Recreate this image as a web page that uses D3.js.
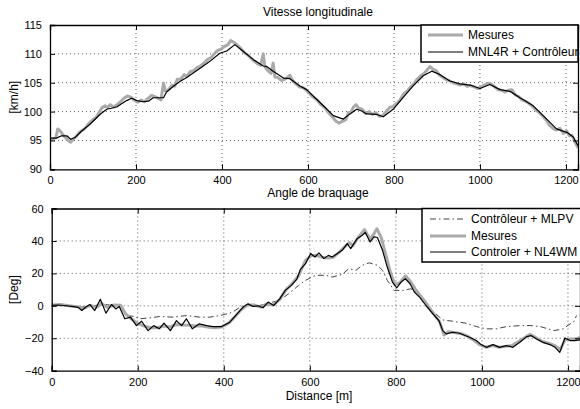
<!DOCTYPE html>
<html><head><meta charset="utf-8">
<script src="https://cdn.jsdelivr.net/npm/d3@7"></script>
<style>body{margin:0;background:#fff}svg{display:block;font-family:"Liberation Sans",Arial,sans-serif}</style>
</head><body><svg id="c" width="580" height="409"></svg>
<script>
// ---------- data ----------
const xTicks = [0, 200, 400, 600, 800, 1000, 1200];
const speedTicks = [90, 95, 100, 105, 110, 115];
const angleTicks = [-40, -20, 0, 20, 40, 60];
const xDomain = [0, 1228];

// Vitesse longitudinale : Mesures [distance m, km/h]
const speedMesures = [[0,95.0],[8,95.3],[14,95.5],[18,97.0],[24,96.6],[30,96.0],[36,95.5],[42,95.0],[48,94.7],[54,95.2],[62,95.8],[70,96.5],[80,97.0],[90,97.9],[100,98.6],[108,99.0],[114,99.8],[120,100.6],[128,101.0],[134,100.7],[140,101.2],[148,100.8],[156,101.2],[164,101.7],[172,102.3],[180,102.7],[188,102.5],[196,102.0],[204,101.6],[212,102.0],[220,101.7],[228,102.3],[236,102.8],[244,102.6],[252,102.3],[258,102.0],[264,104.9],[268,103.6],[276,103.8],[284,104.6],[290,104.4],[296,105.6],[304,105.6],[312,106.4],[318,106.1],[326,106.9],[334,107.1],[342,107.6],[350,107.9],[358,108.4],[366,109.0],[374,109.3],[382,110.0],[390,110.6],[398,110.8],[406,111.3],[414,111.6],[420,112.3],[428,112.0],[436,111.5],[444,110.9],[452,110.2],[460,109.8],[468,109.2],[476,108.7],[484,108.2],[490,108.0],[496,110.0],[500,107.7],[508,107.0],[514,106.6],[519,108.4],[523,106.0],[530,105.9],[538,105.4],[546,105.6],[552,105.9],[558,106.3],[564,105.4],[572,104.8],[580,104.3],[590,104.1],[600,103.4],[610,102.6],[620,102.1],[630,101.2],[640,100.6],[650,99.6],[658,99.0],[664,98.4],[672,98.0],[680,98.3],[688,98.6],[694,99.8],[700,99.9],[706,100.8],[712,101.2],[718,100.6],[726,100.4],[734,99.7],[742,100.0],[750,99.5],[758,99.8],[766,99.2],[774,99.3],[782,100.0],[790,100.7],[798,100.9],[806,101.4],[814,102.0],[822,103.0],[830,103.5],[838,104.2],[846,104.8],[854,105.6],[862,106.2],[870,106.6],[878,107.3],[884,107.8],[890,107.4],[898,107.1],[906,106.3],[914,105.9],[922,105.5],[930,105.3],[938,105.0],[946,104.8],[954,104.6],[962,104.8],[970,104.4],[978,104.5],[986,104.3],[994,104.0],[1002,104.2],[1010,104.6],[1018,104.9],[1026,104.8],[1034,104.3],[1042,103.8],[1050,103.7],[1058,103.4],[1066,103.7],[1074,103.8],[1082,102.9],[1090,102.6],[1098,102.0],[1106,101.8],[1114,101.4],[1122,100.9],[1130,100.3],[1138,99.8],[1146,99.2],[1154,98.5],[1162,97.6],[1170,97.1],[1178,96.8],[1186,97.1],[1194,96.2],[1202,96.6],[1208,95.8],[1214,95.9],[1220,94.9],[1228,93.7]];
// Vitesse longitudinale : MNL4R + Contrôleur
const speedModel = [[0,95.4],[15,95.4],[27,95.8],[39,95.8],[48,95.2],[58,95.5],[73,96.6],[93,97.8],[116,99.5],[132,100.4],[155,100.8],[178,101.9],[190,102.3],[202,101.9],[217,101.7],[229,101.8],[240,102.4],[256,102.4],[264,102.4],[271,103.4],[287,104.4],[302,105.2],[318,105.9],[349,107.5],[372,108.7],[395,110.1],[411,110.5],[430,111.6],[450,110.4],[473,109.0],[496,107.9],[504,107.8],[519,107.0],[543,105.8],[558,105.7],[582,104.4],[597,103.8],[612,102.7],[636,101.0],[659,99.3],[682,98.7],[698,99.6],[713,100.4],[725,100.1],[736,99.6],[760,99.5],[775,99.1],[798,100.4],[821,102.4],[844,104.4],[868,106.2],[888,107.0],[907,106.4],[930,105.3],[953,104.8],[977,104.6],[1000,104.0],[1023,104.7],[1047,103.8],[1070,103.5],[1093,102.4],[1124,101.0],[1147,99.3],[1178,97.0],[1202,96.4],[1217,95.6],[1228,94.1]];

// Angle de braquage : Contrôleur + MLPV [distance m, deg]
const angleMLPV = [[0,0.3],[40,-0.4],[80,-0.6],[120,1.0],[160,-0.5],[174,-6],[190,-6.5],[205,-8],[228,-7.4],[251,-6.6],[282,-7],[313,-6],[344,-7],[367,-7],[391,-6],[414,-4.5],[426,-2.9],[440,-0.5],[456,1],[480,0],[503,1.5],[530,3.5],[551,7.5],[574,12.6],[590,15.7],[613,18.8],[637,18.8],[652,17.7],[675,19.4],[691,22.9],[707,21.9],[722,25],[738,26.5],[757,25],[769,21.9],[780,15.7],[796,9.5],[816,9.5],[835,10.5],[855,7.4],[870,1.2],[893,-5],[909,-8.7],[932,-9.5],[963,-10.7],[987,-12.8],[1010,-14.2],[1033,-14.2],[1057,-12.8],[1088,-12.2],[1112,-12.2],[1136,-12.8],[1167,-15.3],[1189,-14.2],[1205,-11.1],[1213,-10.1],[1220,-6]];
// Angle de braquage : Mesures
const angleMesures = [[0,0.5],[20,0.8],[40,0],[60,-0.5],[75,-1.5],[90,0.3],[105,-1],[115,1.5],[130,-1],[145,0.5],[160,0.3],[172,-5],[185,-8],[200,-11],[215,-12.5],[230,-13.5],[245,-13.5],[260,-12.5],[275,-13],[290,-11.5],[305,-11.8],[320,-12],[335,-12.5],[350,-12.5],[365,-13.2],[380,-13.5],[395,-13],[410,-11],[425,-7],[440,-2.5],[455,0.5],[470,0.5],[485,-0.8],[500,1],[515,0.5],[530,4],[545,10],[560,14],[575,19],[590,28],[603,31],[615,31],[628,30],[642,29.5],[655,30],[668,33],[680,36],[692,39],[700,37],[712,42],[727,47],[740,41],[748,44],[756,47.5],[766,42],[776,32],[788,20],[798,13],[810,14.5],[822,18.5],[834,15],[846,10],[858,6],[872,1],[888,-5],[902,-10],[912,-18],[922,-16],[935,-16.5],[950,-17],[965,-18.5],[980,-21],[995,-24],[1010,-25.5],[1025,-24.5],[1040,-25.5],[1055,-25],[1070,-24.5],[1085,-22],[1100,-19.5],[1112,-17.5],[1125,-19.5],[1140,-22],[1155,-23],[1170,-24.5],[1182,-27],[1193,-21],[1205,-20.5],[1217,-20.5],[1228,-19.5]];
// Angle de braquage : Controler + NL4WM
const angleNL4WM = [[0,0.3],[15,0.5],[27,0.2],[46,-0.4],[62,-1.0],[70,-2.9],[80,-0.6],[89,0.8],[100,-2.9],[113,4.1],[126,-4.5],[139,0.8],[149,-1.9],[157,-0.4],[170,-8],[183,-7],[197,-12.2],[209,-9.5],[224,-15.3],[237,-12.2],[250,-14.2],[261,-10.7],[276,-15.3],[290,-9.1],[302,-12.2],[313,-8],[327,-14.2],[343,-11.1],[360,-12.2],[375,-12.8],[395,-12.8],[414,-10.1],[431,-5],[445,-0.8],[456,1.2],[468,-0.4],[480,0],[491,-1.2],[503,2.3],[516,0.2],[530,4.3],[543,9.5],[557,12.6],[570,16.5],[578,22.5],[590,26],[602,32.2],[612,30.1],[621,32.6],[633,29.1],[643,31.1],[652,30.1],[664,32.2],[675,34.2],[687,38.4],[695,35.3],[710,41.4],[722,43.5],[729,45.2],[740,39.4],[749,42.5],[757,42.1],[769,34.2],[780,23.9],[792,14.6],[802,11.1],[812,14.6],[822,16.7],[833,13.6],[843,8.5],[855,5.4],[870,0.2],[886,-4.9],[900,-9.1],[909,-15.3],[917,-17.3],[932,-16.3],[948,-16.9],[971,-19.4],[987,-21.4],[998,-23.9],[1010,-25.6],[1026,-23.9],[1041,-25.6],[1057,-24.5],[1072,-25.6],[1088,-22.5],[1104,-19],[1115,-18.4],[1127,-20.4],[1142,-22.5],[1158,-23.9],[1170,-25.6],[1181,-28.7],[1193,-19.8],[1205,-21.4],[1216,-21.4],[1228,-21]];

// ---------- drawing ----------
const svg = d3.select("#c");
const GRAY = "#aaaaaa";
const fmt = d => d < 0 ? "\u2212" + Math.abs(d) : String(d);

function panel(cfg) {
  const x = d3.scaleLinear().domain(xDomain).range([cfg.x0, cfg.x1]);
  const y = d3.scaleLinear().domain(cfg.yDomain).range([cfg.y1, cfg.y0]);
  const g = svg.append("g");
  const clipId = "clip" + cfg.id;
  svg.append("clipPath").attr("id", clipId).append("rect")
    .attr("x", cfg.x0).attr("y", cfg.y0).attr("width", cfg.x1 - cfg.x0).attr("height", cfg.y1 - cfg.y0);
  // grid
  const grid = g.append("g").attr("stroke", "#333").attr("stroke-width", 0.8).attr("stroke-dasharray", "1,3");
  xTicks.slice(1).forEach(t => grid.append("line").attr("x1", x(t)).attr("x2", x(t)).attr("y1", cfg.y0).attr("y2", cfg.y1));
  cfg.yTicks.slice(1, -1).forEach(t => grid.append("line").attr("x1", cfg.x0).attr("x2", cfg.x1).attr("y1", y(t)).attr("y2", y(t)));
  // series
  const line = d3.line().x(d => x(d[0])).y(d => y(d[1]));
  const sg = g.append("g").attr("clip-path", `url(#${clipId})`).attr("fill", "none");
  cfg.series.forEach(s => sg.append("path").datum(s.data).attr("d", line)
    .attr("stroke", s.color).attr("stroke-width", s.width).attr("stroke-dasharray", s.dash || null)
    .attr("stroke-linejoin", "round"));
  // axes (inward ticks, MATLAB style)
  const axB = d3.axisBottom(x).tickValues(xTicks).tickSize(-5).tickPadding(cfg.xPad).tickFormat(fmt);
  const axT = d3.axisTop(x).tickValues(xTicks).tickSize(-5).tickFormat("");
  const axL = d3.axisLeft(y).tickValues(cfg.yTicks).tickSize(-5).tickPadding(8).tickFormat(fmt);
  const axR = d3.axisRight(y).tickValues(cfg.yTicks).tickSize(-5).tickFormat("");
  [[axB, `translate(0,${cfg.y1})`], [axT, `translate(0,${cfg.y0})`], [axL, `translate(${cfg.x0},0)`], [axR, `translate(${cfg.x1},0)`]]
    .forEach(([ax, tr]) => {
      const a = g.append("g").attr("transform", tr).call(ax);
      a.select(".domain").attr("stroke", "#000").attr("stroke-width", 1.3);
      a.selectAll(".tick line").attr("stroke", "#000");
      a.selectAll("text").attr("font-size", 11).attr("fill", "#000").attr("font-family", "Liberation Sans, Arial, sans-serif");
    });
  // y label
  g.append("text").attr("transform", `translate(${cfg.ylabX},${(cfg.y0 + cfg.y1) / 2}) rotate(-90)`)
    .attr("text-anchor", "middle").attr("dominant-baseline", "central").attr("font-size", 12).text(cfg.ylabel);
  // title
  g.append("text").attr("x", 318).attr("y", cfg.titleY).attr("text-anchor", "middle").attr("font-size", 12).text(cfg.title);
  // legend
  const L = cfg.legend;
  const lg = g.append("g");
  lg.append("rect").attr("x", L.x).attr("y", cfg.y0).attr("width", L.w).attr("height", L.h)
    .attr("fill", "#fff").attr("stroke", "#000").attr("stroke-width", 1.5);
  L.items.forEach((it, i) => {
    const yy = L.rowY[i];
    lg.append("line").attr("x1", L.lx0).attr("x2", L.lx1).attr("y1", yy).attr("y2", yy)
      .attr("stroke", it.color).attr("stroke-width", it.width).attr("stroke-dasharray", it.dash || null);
    lg.append("text").attr("x", L.tx).attr("y", yy).attr("dominant-baseline", "central").attr("font-size", 12).text(it.label);
  });
  return { x, y };
}

const sMes = { data: speedMesures, color: GRAY, width: 3, label: "Mesures" };
const sMod = { data: speedModel, color: "#000", width: 1.2, label: "MNL4R + Contrôleur" };
panel({
  id: 1, x0: 50, x1: 578, y0: 25, y1: 169.3, yDomain: [90, 115], yTicks: speedTicks,
  ylabel: "[km/h]", ylabX: 14, title: "Vitesse longitudinale", titleY: 16, xPad: 7,
  series: [sMes, sMod],
  legend: { x: 421, w: 157, h: 37, rowY: [35, 52], lx0: 428, lx1: 463, tx: 468, items: [sMes, sMod] }
});

const aLPV = { data: angleMLPV, color: "#444", width: 1, dash: "6,3,1.5,3", label: "Contrôleur + MLPV" };
const aMes = { data: angleMesures, color: GRAY, width: 3, label: "Mesures" };
const aNL = { data: angleNL4WM, color: "#000", width: 1.2, label: "Controler + NL4WM" };
panel({
  id: 2, x0: 51.7, x1: 580, y0: 208.5, y1: 370.7, yDomain: [-40, 60], yTicks: angleTicks,
  ylabel: "[Deg]", ylabX: 14, title: "Angle de braquage", titleY: 197, xPad: 8,
  series: [aLPV, aMes, aNL],
  legend: { x: 422, w: 165, h: 53.5, rowY: [219, 236, 252], lx0: 430, lx1: 466, tx: 471, items: [aLPV, aMes, aNL] }
});

svg.append("text").attr("x", 319).attr("y", 400).attr("text-anchor", "middle").attr("font-size", 12).text("Distance [m]");
</script></body></html>
